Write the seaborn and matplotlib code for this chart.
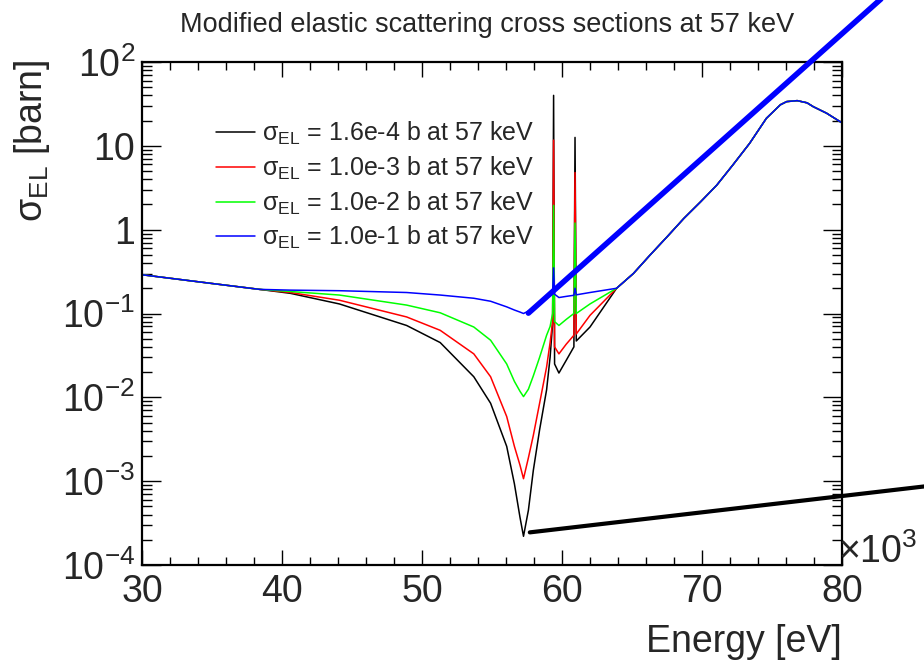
import numpy as np
import pandas as pd
import matplotlib
matplotlib.use("Agg")
import matplotlib.pyplot as plt
import seaborn as sns
from matplotlib.ticker import FixedLocator, FixedFormatter, MultipleLocator, LogLocator, NullFormatter

# ---------------- data ----------------
# part where the four curves differ (energies in keV)
energy_keV = [30, 35, 38.4, 40.6, 44.1, 48.9, 51.3, 53.7, 54.9, 56.05, 56.6, 57.0, 57.25,
              57.6, 57.95, 58.4, 58.9, 59.15, 59.33, 59.4, 59.47, 59.78, 60.3, 60.85,
              60.93, 61.02, 62.0]
sigma_16e4 = [0.29, 0.228, 0.194, 0.174, 0.13, 0.072, 0.045, 0.0176, 0.0085, 0.0026,
              0.00093, 0.00037, 0.00022, 0.00045, 0.00134, 0.0041, 0.0123, 0.030, 0.076,
              40.0, 0.025, 0.0195, 0.0276, 0.040, 12.6, 0.047, 0.069]
sigma_10e3 = [0.29, 0.228, 0.194, 0.178, 0.144, 0.091, 0.063, 0.033, 0.0176, 0.0059,
              0.0026, 0.00155, 0.00107, 0.0019, 0.0035, 0.0085, 0.023, 0.045, 0.080,
              11.7, 0.040, 0.033, 0.043, 0.055, 4.8, 0.057, 0.095]
sigma_10e2 = [0.29, 0.228, 0.194, 0.183, 0.166, 0.126, 0.102, 0.069, 0.048, 0.025,
              0.0155, 0.0118, 0.0102, 0.0125, 0.018, 0.030, 0.055, 0.070, 0.10,
              1.95, 0.080, 0.072, 0.085, 0.10, 1.2, 0.10, 0.13]
sigma_10e1 = [0.29, 0.228, 0.194, 0.19, 0.187, 0.178, 0.166, 0.152, 0.14, 0.12,
              0.11, 0.104, 0.10, 0.107, 0.115, 0.13, 0.15, 0.165, 0.18,
              0.35, 0.17, 0.155, 0.16, 0.165, 0.20, 0.167, 0.178]

# part where all four curves coincide
shared_energy_keV = [63.9, 65.1, 66.3, 67.5, 68.7, 69.9, 71.05, 72.2, 73.4, 74.6, 75.6,
                     76.05, 76.8, 77.5, 77.95, 78.9, 80.0]
shared_sigma = [0.2, 0.30, 0.50, 0.82, 1.36, 2.15, 3.39, 5.9, 10.7, 21.3, 30.9,
                33.7, 34.6, 32.6, 29.3, 24.5, 18.8]

series_labels = ["σ$_{\\rm EL}$ = 1.6e-4 b at 57 keV",
                 "σ$_{\\rm EL}$ = 1.0e-3 b at 57 keV",
                 "σ$_{\\rm EL}$ = 1.0e-2 b at 57 keV",
                 "σ$_{\\rm EL}$ = 1.0e-1 b at 57 keV"]
series_colors = ["#000000", "#ff0000", "#00ff00", "#0000ff"]

# extra thick guide lines in the original
blue_guide_energy = [57.6, 86.0]
blue_guide_sigma = [0.101, 1700.0]
black_guide_energy = [57.7, 86.0]
black_guide_sigma = [2.45e-4, 8.7e-4]

x_ticks = [30, 40, 50, 60, 70, 80]
y_ticks = [1e-4, 1e-3, 1e-2, 1e-1, 1, 10, 100]
y_tick_labels = ["$10^{-4}$", "$10^{-3}$", "$10^{-2}$", "$10^{-1}$", "1", "10", "$10^{2}$"]

# ---------------- style ----------------
sns.set_style("ticks")
plt.rcParams["font.family"] = ["Liberation Sans", "DejaVu Sans"]
plt.rcParams["mathtext.fontset"] = "custom"
plt.rcParams["mathtext.rm"] = "Liberation Sans"
plt.rcParams["mathtext.it"] = "Liberation Sans:italic"
plt.rcParams["mathtext.bf"] = "Liberation Sans:bold"
plt.rcParams["mathtext.sf"] = "Liberation Sans"

W, H = 924, 663
fig = plt.figure(figsize=(W / 100, H / 100), dpi=100)
ax = fig.add_axes([142 / W, 1 - 565 / H, (842 - 142) / W, (565 - 62) / H])

frames = []
for lab, vals in zip(series_labels, [sigma_16e4, sigma_10e3, sigma_10e2, sigma_10e1]):
    frames.append(pd.DataFrame({"energy": list(energy_keV) + list(shared_energy_keV),
                                "sigma": list(vals) + list(shared_sigma),
                                "series": lab}))
df = pd.concat(frames, ignore_index=True)

sns.lineplot(data=df, x="energy", y="sigma", hue="series", hue_order=series_labels,
             palette=series_colors, estimator=None, sort=False, linewidth=1.1,
             legend=False, ax=ax)

sns.lineplot(x=blue_guide_energy, y=blue_guide_sigma, color="#0000ff", linewidth=4.0,
             estimator=None, sort=False, ax=ax, clip_on=False, zorder=10)
sns.lineplot(x=black_guide_energy, y=black_guide_sigma, color="#000000", linewidth=3.0,
             estimator=None, sort=False, ax=ax, clip_on=False, zorder=10)

ax.set_yscale("log")
ax.set_xlim(30, 80)
ax.set_ylim(1e-4, 1e2)
ax.set_xlabel("")
ax.set_ylabel("")

ax.xaxis.set_major_locator(FixedLocator(x_ticks))
ax.xaxis.set_minor_locator(MultipleLocator(2))
ax.yaxis.set_major_locator(FixedLocator(y_ticks))
ax.yaxis.set_major_formatter(FixedFormatter(y_tick_labels))
ax.yaxis.set_minor_locator(LogLocator(base=10, subs=np.arange(2, 10), numticks=20))
ax.yaxis.set_minor_formatter(NullFormatter())

ax.tick_params(axis="both", which="both", direction="in", top=True, right=True,
               color="black", width=1.0)
ax.tick_params(axis="x", which="major", length=11, labelsize=27, pad=6.5)
ax.tick_params(axis="x", which="minor", length=6)
ax.tick_params(axis="y", which="major", length=14, labelsize=27, pad=5)
ax.tick_params(axis="y", which="minor", length=7)
for s in ax.spines.values():
    s.set_linewidth(1.6)
    s.set_color("black")

# legend
handles = ax.lines[:4]
leg = ax.legend(handles, series_labels, loc="upper left", frameon=False,
                bbox_to_anchor=(216 / W, 1 - 120 / H), bbox_transform=fig.transFigure,
                fontsize=18, handlelength=1.55, handletextpad=0.3,
                labelspacing=0.3, borderpad=0, borderaxespad=0)

fig.text(487 / W, 1 - 25 / H, "Modified elastic scattering cross sections at 57 keV",
         ha="center", va="center", fontsize=19.5)
fig.text(842 / W, 1 - 652 / H, "Energy [eV]", ha="right", va="baseline", fontsize=27)
fig.text(32 / W, 1 - 60 / H, "σ$_{\\rm EL}$ [barn]", rotation=90, ha="center",
         va="top", fontsize=27)
fig.text(838 / W, 1 - 563 / H, "×10$^{3}$", ha="left", va="baseline", fontsize=27)

fig.savefig("out.png", dpi=100)
